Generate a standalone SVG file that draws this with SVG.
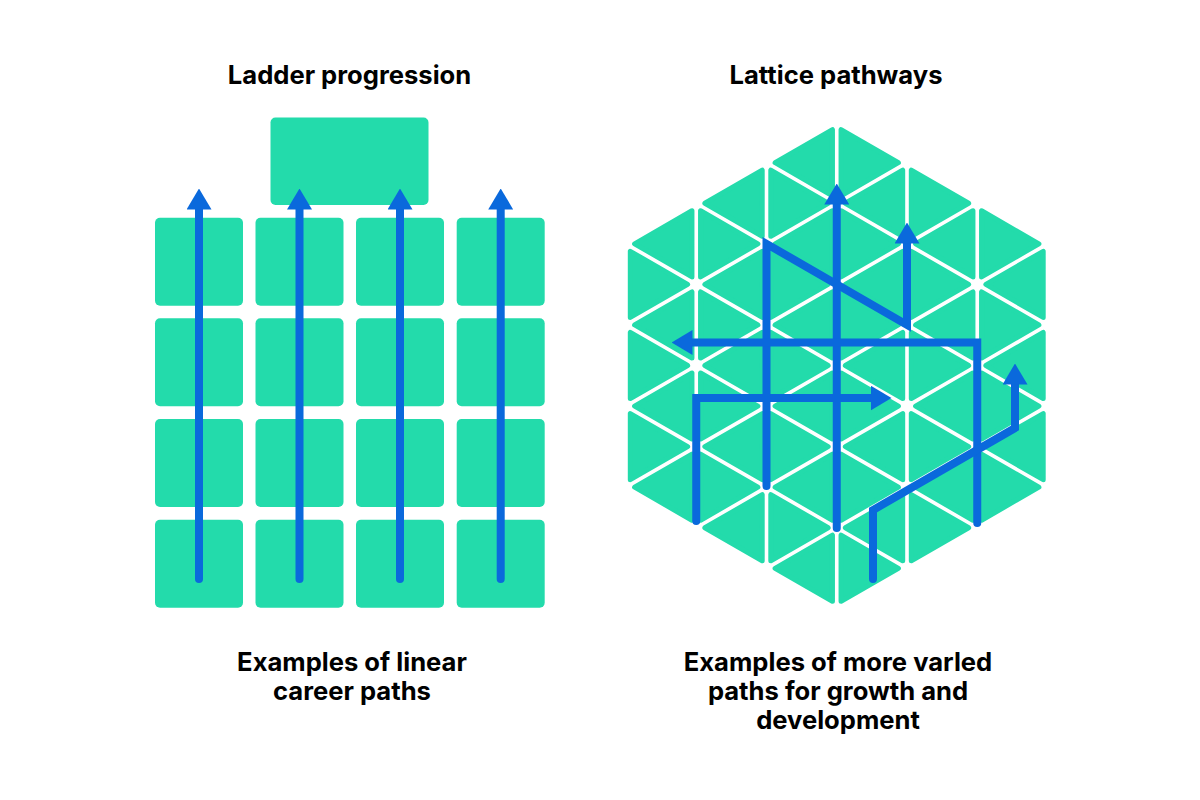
<svg xmlns="http://www.w3.org/2000/svg" xmlns:xlink="http://www.w3.org/1999/xlink" width="1200" height="800" viewBox="0 0 1200 800">
  <style>
    .t { font-family: Inter, "Liberation Sans", Arial, sans-serif; font-weight: 700; font-size: 25.6px; fill: #000; text-anchor: middle; }
    .box { fill: #23dbab; }
    .tri { fill: #23dbab; stroke: #23dbab; stroke-width: 5; stroke-linejoin: round; }
    .path { fill: none; stroke: #0a69dc; stroke-width: 8; stroke-linecap: round; stroke-linejoin: miter; marker-end: url(#arrow); }
  </style>
  <defs>
    <marker id="arrow" markerUnits="userSpaceOnUse" viewBox="0 0 21 25" refX="0.5" refY="12.5" markerWidth="21" markerHeight="25" orient="auto">
      <path d="M0,0 L21,12.5 L0,25 Z" fill="#0a69dc"/>
    </marker>
    <polygon id="R" class="tri" points="4.3,7.5 4.3,73.62 61.65,40.56"/>
    <polygon id="L" class="tri" points="65.95,7.5 65.95,73.62 8.6,40.56"/>
  </defs>
  <rect width="1200" height="800" fill="#fff"/>

  <g id="title-ladder"><text class="t" x="349.5" y="84">Ladder progression</text></g>
  <g id="title-lattice"><text class="t" x="836" y="84">Lattice pathways</text></g>

  <g id="ladder">
    <rect id="ladder-top" class="box" x="270.5" y="117.5" width="158" height="87.5" rx="5"/>
    <g id="ladder-row1">
      <rect class="box" x="155" y="217.7" width="88" height="88" rx="5"/>
      <rect class="box" x="255.5" y="217.7" width="88" height="88" rx="5"/>
      <rect class="box" x="356" y="217.7" width="88" height="88" rx="5"/>
      <rect class="box" x="456.7" y="217.7" width="88" height="88" rx="5"/>
    </g>
    <g id="ladder-row2">
      <rect class="box" x="155" y="318.3" width="88" height="88" rx="5"/>
      <rect class="box" x="255.5" y="318.3" width="88" height="88" rx="5"/>
      <rect class="box" x="356" y="318.3" width="88" height="88" rx="5"/>
      <rect class="box" x="456.7" y="318.3" width="88" height="88" rx="5"/>
    </g>
    <g id="ladder-row3">
      <rect class="box" x="155" y="419" width="88" height="88" rx="5"/>
      <rect class="box" x="255.5" y="419" width="88" height="88" rx="5"/>
      <rect class="box" x="356" y="419" width="88" height="88" rx="5"/>
      <rect class="box" x="456.7" y="419" width="88" height="88" rx="5"/>
    </g>
    <g id="ladder-row4">
      <rect class="box" x="155" y="519.7" width="88" height="88" rx="5"/>
      <rect class="box" x="255.5" y="519.7" width="88" height="88" rx="5"/>
      <rect class="box" x="356" y="519.7" width="88" height="88" rx="5"/>
      <rect class="box" x="456.7" y="519.7" width="88" height="88" rx="5"/>
    </g>
  </g>

  <g id="lattice">
    <use xlink:href="#R" x="626" y="243.82"/>
    <use xlink:href="#R" x="626" y="324.94"/>
    <use xlink:href="#R" x="626" y="406.06"/>
    <use xlink:href="#L" x="626" y="203.26"/>
    <use xlink:href="#L" x="626" y="284.38"/>
    <use xlink:href="#L" x="626" y="365.5"/>
    <use xlink:href="#L" x="626" y="446.62"/>

    <use xlink:href="#R" x="696.25" y="203.26"/>
    <use xlink:href="#R" x="696.25" y="284.38"/>
    <use xlink:href="#R" x="696.25" y="365.5"/>
    <use xlink:href="#R" x="696.25" y="446.62"/>
    <use xlink:href="#L" x="696.25" y="162.7"/>
    <use xlink:href="#L" x="696.25" y="243.82"/>
    <use xlink:href="#L" x="696.25" y="324.94"/>
    <use xlink:href="#L" x="696.25" y="406.06"/>
    <use xlink:href="#L" x="696.25" y="487.18"/>

    <use xlink:href="#R" x="766.5" y="162.7"/>
    <use xlink:href="#R" x="766.5" y="243.82"/>
    <use xlink:href="#R" x="766.5" y="324.94"/>
    <use xlink:href="#R" x="766.5" y="406.06"/>
    <use xlink:href="#R" x="766.5" y="487.18"/>
    <use xlink:href="#L" x="766.5" y="122.14"/>
    <use xlink:href="#L" x="766.5" y="203.26"/>
    <use xlink:href="#L" x="766.5" y="284.38"/>
    <use xlink:href="#L" x="766.5" y="365.5"/>
    <use xlink:href="#L" x="766.5" y="446.62"/>
    <use xlink:href="#L" x="766.5" y="527.74"/>

    <use xlink:href="#R" x="836.75" y="122.14"/>
    <use xlink:href="#R" x="836.75" y="203.26"/>
    <use xlink:href="#R" x="836.75" y="284.38"/>
    <use xlink:href="#R" x="836.75" y="365.5"/>
    <use xlink:href="#R" x="836.75" y="446.62"/>
    <use xlink:href="#R" x="836.75" y="527.74"/>
    <use xlink:href="#L" x="836.75" y="162.7"/>
    <use xlink:href="#L" x="836.75" y="243.82"/>
    <use xlink:href="#L" x="836.75" y="324.94"/>
    <use xlink:href="#L" x="836.75" y="406.06"/>
    <use xlink:href="#L" x="836.75" y="487.18"/>

    <use xlink:href="#R" x="907" y="162.7"/>
    <use xlink:href="#R" x="907" y="243.82"/>
    <use xlink:href="#R" x="907" y="324.94"/>
    <use xlink:href="#R" x="907" y="406.06"/>
    <use xlink:href="#R" x="907" y="487.18"/>
    <use xlink:href="#L" x="907" y="203.26"/>
    <use xlink:href="#L" x="907" y="284.38"/>
    <use xlink:href="#L" x="907" y="365.5"/>
    <use xlink:href="#L" x="907" y="446.62"/>

    <use xlink:href="#R" x="977.25" y="203.26"/>
    <use xlink:href="#R" x="977.25" y="284.38"/>
    <use xlink:href="#R" x="977.25" y="365.5"/>
    <use xlink:href="#R" x="977.25" y="446.62"/>
    <use xlink:href="#L" x="977.25" y="243.82"/>
    <use xlink:href="#L" x="977.25" y="324.94"/>
    <use xlink:href="#L" x="977.25" y="406.06"/>
  </g>

  <g id="connectors">
    <path class="path" d="M199,579 V209"/>
    <path class="path" d="M299.5,579 V209"/>
    <path class="path" d="M400,579 V209"/>
    <path class="path" d="M500.7,579 V209"/>

    <path class="path" d="M836.75,528 V204"/>
    <path class="path" d="M766.5,486 V243.82 L907,324.94 V243"/>
    <path class="path" d="M977.25,523 V342.5 H692"/>
    <path class="path" d="M696.25,521 V398 H871"/>
    <path class="path" d="M873,579 V510 L1015,428 V384"/>
  </g>

  <g id="caption-ladder">
    <text class="t" x="352" y="671">Examples of linear</text>
    <text class="t" x="352" y="700">career paths</text>
  </g>
  <g id="caption-lattice">
    <text class="t" x="838" y="671">Examples of more varled</text>
    <text class="t" x="838" y="700">paths for growth and</text>
    <text class="t" x="838" y="729">development</text>
  </g>
</svg>
